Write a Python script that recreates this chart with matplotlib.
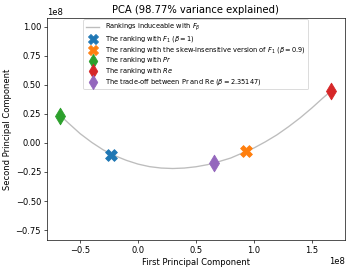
import matplotlib
matplotlib.use("Agg")
import matplotlib.pyplot as plt

# curve of rankings induceable with F_beta (units of 1e8)
curve_x = [-0.67, -0.6, -0.5, -0.4, -0.3, -0.2, -0.1, 0.0, 0.1, 0.2, 0.3, 0.4,
           0.5, 0.6, 0.7, 0.8, 0.9, 1.0, 1.1, 1.2, 1.3, 1.4, 1.5, 1.6, 1.67]
curve_y = [0.235, 0.17, 0.08, 0.005, -0.06, -0.11, -0.15, -0.182, -0.204, -0.216, -0.22, -0.216,
           -0.205, -0.187, -0.16, -0.13, -0.087, -0.044, 0.01, 0.07, 0.14, 0.216, 0.30, 0.39, 0.45]

point_labels = [
    r"The ranking with $F_1$ ($\beta = 1$)",
    r"The ranking with the skew-insensitive version of $F_1$ ($\beta = 0.9$)",
    r"The ranking with $Pr$",
    r"The ranking with $Re$",
    r"The trade-off between Pr and Re ($\beta = 2.35147$)",
]
point_x = [-0.23, 0.93, -0.67, 1.67, 0.66]
point_y = [-0.10, -0.07, 0.235, 0.45, -0.175]
point_markers = ["X", "X", "d", "d", "d"]
point_colors = ["tab:blue", "tab:orange", "tab:green", "tab:red", "tab:purple"]

SCALE = 1e8
DPI = 60

fig, ax = plt.subplots(figsize=(353 / DPI, 272 / DPI), dpi=DPI)
fig.subplots_adjust(left=0.133, right=0.977, top=0.934, bottom=0.118)

ax.plot([x * SCALE for x in curve_x], [y * SCALE for y in curve_y],
        color="#bdbdbd", linewidth=1.6, label=r"Rankings induceable with $F_\beta$")
for lab, x, y, m, c in zip(point_labels, point_x, point_y, point_markers, point_colors):
    ax.scatter([x * SCALE], [y * SCALE], marker=m, s=200, color=c, zorder=3, label=lab)

ax.set_ylim(-0.835 * SCALE, 1.077 * SCALE)
ax.set_title("PCA (98.77% variance explained)")
ax.set_xlabel("First Principal Component")
ax.set_ylabel("Second Principal Component")
ax.legend(loc="upper center", fontsize=8, labelspacing=0.1, borderaxespad=0.2,
          markerscale=0.85)

fig.savefig("out.png", dpi=DPI)
